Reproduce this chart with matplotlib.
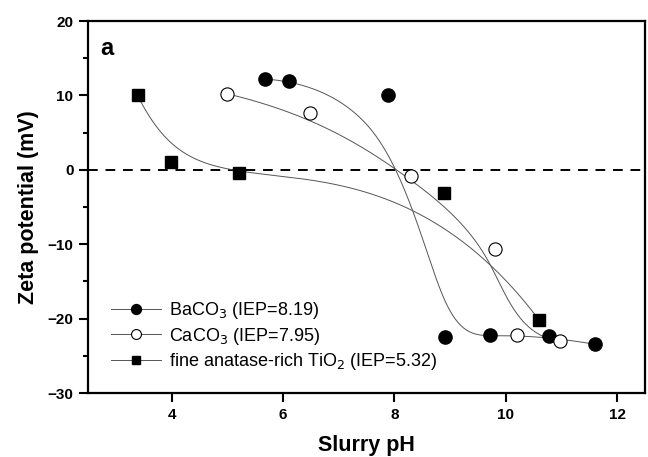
import numpy as np
import matplotlib
matplotlib.use("Agg")
import matplotlib.pyplot as plt
from matplotlib.ticker import MultipleLocator

plt.rcParams["font.family"] = ["Liberation Sans", "DejaVu Sans"]

# zeta potential vs slurry pH
ba_ph = [5.67, 6.10, 7.89, 8.91, 9.72, 10.78, 11.60]
ba_zeta = [12.2, 12.0, 10.05, -22.5, -22.2, -22.4, -23.45]

ca_ph = [4.99, 6.49, 8.30, 9.81, 10.20, 10.98]
ca_zeta = [10.23, 7.59, -0.79, -10.6, -22.25, -23.05]

ti_ph = [3.39, 3.99, 5.21, 8.89, 10.60]
ti_zeta = [10.0, 1.05, -0.43, -3.16, -20.2]

labels = [
    r"BaCO$_3$ (IEP=8.19)",
    r"CaCO$_3$ (IEP=7.95)",
    r"fine anatase-rich TiO$_2$ (IEP=5.32)",
]


def bspline(xs, ys, n=400, k=3):
    """Clamped uniform B-spline using the data points as control points."""
    P = np.column_stack([xs, ys])
    m = len(P)
    k = min(k, m - 1)
    inner = np.linspace(0, 1, m - k + 1)[1:-1]
    t = np.concatenate([np.zeros(k + 1), inner, np.ones(k + 1)])
    u = np.linspace(0, 1, n)
    u[-1] = 1 - 1e-12
    # Cox-de Boor recursion
    B = np.zeros((n, len(t) - 1))
    for i in range(len(t) - 1):
        B[:, i] = (u >= t[i]) & (u < t[i + 1])
    for d in range(1, k + 1):
        Bn = np.zeros((n, len(t) - 1 - d))
        for i in range(len(t) - 1 - d):
            a = 0.0
            if t[i + d] > t[i]:
                a = (u - t[i]) / (t[i + d] - t[i]) * B[:, i]
            b = 0.0
            if t[i + d + 1] > t[i + 1]:
                b = (t[i + d + 1] - u) / (t[i + d + 1] - t[i + 1]) * B[:, i + 1]
            Bn[:, i] = a + b
        B = Bn
    C = B @ P
    return C[:, 0], C[:, 1]


fig = plt.figure(figsize=(6.48, 4.57), dpi=100)
ax = fig.add_axes([0.1358, 0.140, 0.8596, 0.814])

line_kw = dict(color="#555555", lw=0.7)
series = [
    (ba_ph, ba_zeta, dict(marker="o", mfc="black", mec="black", ms=9.5)),
    (ca_ph, ca_zeta, dict(marker="o", mfc="white", mec="black", ms=9.5, mew=0.8)),
    (ti_ph, ti_zeta, dict(marker="s", mfc="black", mec="black", ms=8.5)),
]
handles = []
for (x, y, mk), lab in zip(series, labels):
    cx, cy = bspline(x, y)
    ax.plot(cx, cy, zorder=2, **line_kw)
    ax.plot(x, y, ls="none", zorder=3, **mk)
    lk = dict(mk)
    lk["ms"] = mk["ms"] * 0.75
    h, = ax.plot([], [], label=lab, **line_kw, **lk)
    handles.append(h)

ax.axhline(0, color="black", lw=1.4, ls=(0, (5, 4)), zorder=1)

ax.set_xlim(2.5, 12.5)
ax.set_ylim(-30, 20)
ax.xaxis.set_major_locator(MultipleLocator(2))
ax.yaxis.set_major_locator(MultipleLocator(10))
ax.yaxis.set_minor_locator(MultipleLocator(5))
ax.tick_params(which="major", direction="out", length=6.5, width=1.5,
               labelsize=11, pad=4)
ax.tick_params(which="minor", direction="out", length=3.5, width=1.5)
ax.tick_params(axis="x", which="minor", length=0)
for lbl in ax.get_xticklabels() + ax.get_yticklabels():
    lbl.set_fontweight("bold")
for sp in ax.spines.values():
    sp.set_linewidth(1.6)

ax.set_xlabel("Slurry pH", fontsize=15.5, fontweight="bold", labelpad=10)
ax.set_ylabel("Zeta potential (mV)", fontsize=15.5, fontweight="bold", labelpad=6)
ax.text(0.022, 0.927, "a", transform=ax.transAxes, fontsize=17,
        fontweight="bold", va="center", ha="left")

ax.legend(handles=handles, loc="lower left", bbox_to_anchor=(0.028, 0.037),
          frameon=False, fontsize=13, handlelength=2.8, handletextpad=0.4,
          labelspacing=0.25, borderaxespad=0)

fig.savefig("out.png", dpi=100)
